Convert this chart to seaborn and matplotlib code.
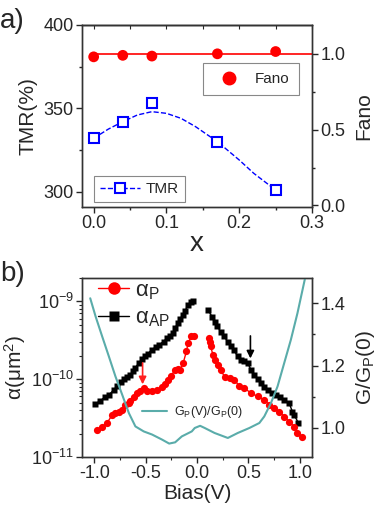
import numpy as np
import pandas as pd
import matplotlib
matplotlib.use("Agg")
import matplotlib.pyplot as plt
from matplotlib.lines import Line2D
from matplotlib.ticker import MultipleLocator
import seaborn as sns

# panel a: composition x
x_comp = [0.0, 0.04, 0.08, 0.17, 0.25]
tmr = [332, 342, 353, 330, 301]
fano = [0.98, 0.99, 0.985, 1.0, 1.015]
tmr_fit_x = [0.0, 0.02, 0.04, 0.06, 0.08, 0.10, 0.12, 0.14, 0.17, 0.20, 0.22, 0.25]
tmr_fit = [332, 337.5, 342, 346, 348, 347, 344, 339, 330, 319, 311, 301]
fano_ref_x = [0.0, 0.3]
fano_ref = [1.0, 1.0]

# panel b: bias dependence, negative / positive branches
bias_ap_neg = [-0.993, -0.948, -0.896, -0.858, -0.81, -0.776, -0.745, -0.712, -0.68,
               -0.648, -0.625, -0.60, -0.567, -0.535, -0.503, -0.477, -0.44, -0.40,
               -0.368, -0.326, -0.29, -0.261, -0.235, -0.21, -0.187, -0.164, -0.138,
               -0.116, -0.09, -0.061, -0.04]
alpha_ap_neg = [4.8e-11, 5.2e-11, 5.9e-11, 6.3e-11, 7.3e-11, 8.2e-11, 9.3e-11, 1.0e-10,
                1.06e-10, 1.14e-10, 1.27e-10, 1.41e-10, 1.61e-10, 1.81e-10, 2.0e-10,
                2.12e-10, 2.4e-10, 2.59e-10, 2.77e-10, 3.05e-10, 3.39e-10, 3.55e-10,
                3.92e-10, 4.62e-10, 5.27e-10, 5.93e-10, 6.76e-10, 7.45e-10, 9.08e-10,
                9.8e-10, 1.0e-9]
bias_ap_pos = [0.107, 0.145, 0.171, 0.197, 0.229, 0.261, 0.30, 0.333, 0.358, 0.397,
               0.43, 0.46, 0.494, 0.526, 0.559, 0.59, 0.623, 0.655, 0.687, 0.726,
               0.769, 0.81, 0.849, 0.897, 0.929, 0.946, 0.985]
alpha_ap_pos = [7.8e-10, 6.4e-10, 5.5e-10, 4.8e-10, 4.1e-10, 3.55e-10, 3.05e-10,
                2.64e-10, 2.39e-10, 1.96e-10, 1.78e-10, 1.73e-10, 1.61e-10, 1.32e-10,
                1.14e-10, 1.0e-10, 8.9e-11, 8.05e-11, 7.16e-11, 6.62e-11, 6.31e-11,
                5.89e-11, 5.43e-11, 4.92e-11, 3.84e-11, 3.48e-11, 2.77e-11]
bias_p_neg = [-0.971, -0.922, -0.874, -0.826, -0.794, -0.761, -0.729, -0.70, -0.664,
              -0.648, -0.616, -0.583, -0.551, -0.52, -0.487, -0.44, -0.39, -0.342,
              -0.31, -0.28, -0.25, -0.216, -0.19, -0.167, -0.135, -0.103, -0.087,
              -0.054, -0.032]
alpha_p_neg = [2.23e-11, 2.46e-11, 2.77e-11, 3.47e-11, 3.66e-11, 3.84e-11, 4.04e-11,
               4.68e-11, 5.01e-11, 5.32e-11, 5.89e-11, 6.6e-11, 6.95e-11, 7.67e-11,
               6.95e-11, 6.95e-11, 7.31e-11, 7.91e-11, 8.8e-11, 9.8e-11, 1.1e-10,
               1.32e-10, 1.35e-10, 1.32e-10, 1.61e-10, 2.28e-10, 2.92e-10, 3.55e-10,
               3.62e-10]
bias_p_pos = [0.113, 0.123, 0.133, 0.155, 0.178, 0.203, 0.229, 0.268, 0.317, 0.365,
              0.413, 0.462, 0.526, 0.59, 0.655, 0.704, 0.752, 0.80, 0.849, 0.897,
              0.946, 0.978, 1.027]
alpha_p_pos = [3.39e-10, 3.05e-10, 2.64e-10, 2.06e-10, 1.78e-10, 1.53e-10, 1.32e-10,
               1.08e-10, 1.03e-10, 9.8e-11, 8.1e-11, 7.67e-11, 6.62e-11, 6.0e-11,
               5.43e-11, 4.68e-11, 4.27e-11, 3.84e-11, 3.31e-11, 2.85e-11, 2.46e-11,
               2.02e-11, 1.8e-11]
bias_g = [-1.04, -0.987, -0.923, -0.858, -0.794, -0.729, -0.664, -0.60, -0.519,
          -0.438, -0.342, -0.271, -0.213, -0.148, -0.051, -0.022, 0.03, 0.075, 0.171,
          0.30, 0.397, 0.51, 0.607, 0.655, 0.72, 0.784, 0.849, 0.914, 0.978, 1.05]
g_ratio = [1.416, 1.357, 1.293, 1.229, 1.165, 1.107, 1.048, 1.005, 0.989, 0.979,
           0.963, 0.950, 0.954, 0.973, 0.989, 1.0, 1.007, 1.0, 0.984, 0.968, 0.984,
           1.0, 1.016, 1.037, 1.08, 1.133, 1.208, 1.283, 1.368, 1.477]

sns.set_style("ticks")
plt.rcParams["font.family"] = ["Liberation Sans", "DejaVu Sans"]
plt.rcParams["mathtext.fontset"] = "custom"
plt.rcParams["mathtext.rm"] = "Liberation Sans"
plt.rcParams["mathtext.it"] = "Liberation Sans:italic"
plt.rcParams["axes.edgecolor"] = "#333333"
plt.rcParams["axes.linewidth"] = 1.0

fig = plt.figure(figsize=(3.82, 5.09), dpi=100)
ax_a = fig.add_axes([0.2147, 0.5933, 0.6021, 0.3576])
ax_b = fig.add_axes([0.2147, 0.1022, 0.6021, 0.3516])

TICK = 13
LAB = 15

# ---- panel a ----
ax_a2 = ax_a.twinx()
sns.lineplot(x=tmr_fit_x, y=tmr_fit, ax=ax_a, color="#0000ff", linestyle="--",
             linewidth=1.0, estimator=None, sort=False, legend=False)
ax_a.plot(x_comp, tmr, linestyle="none", marker="s", markersize=7,
          markerfacecolor="white", markeredgecolor="#0000ff", markeredgewidth=1.5)
sns.lineplot(x=fano_ref_x, y=fano_ref, ax=ax_a2, color="#ff0000", linewidth=1.2,
             estimator=None, legend=False)
sns.scatterplot(x=x_comp, y=fano, ax=ax_a2, color="#ff0000", s=60,
                edgecolor="none", legend=False, zorder=3)

ax_a.set_xlim(-0.016, 0.3)
ax_a.set_ylim(290.8, 400)
ax_a2.set_ylim(-0.01, 1.19)
ax_a.xaxis.set_major_locator(MultipleLocator(0.1))
ax_a.xaxis.set_minor_locator(MultipleLocator(0.05))
ax_a.yaxis.set_major_locator(MultipleLocator(50))
ax_a.yaxis.set_minor_locator(MultipleLocator(25))
ax_a2.yaxis.set_major_locator(MultipleLocator(0.5))
ax_a2.yaxis.set_minor_locator(MultipleLocator(0.25))
ax_a.set_xticks([0.0, 0.1, 0.2, 0.3])
ax_a.set_xticklabels(["0.0", "0.1", "0.2", "0.3"])
ax_a2.set_yticks([0.0, 0.5, 1.0])
ax_a2.set_yticklabels(["0.0", "0.5", "1.0"])
ax_a.tick_params(labelsize=TICK, length=4, width=1, pad=2)
ax_a.tick_params(which="minor", length=2.5, width=1)
ax_a2.tick_params(labelsize=TICK, length=4, width=1, pad=2)
ax_a2.tick_params(which="minor", length=2.5, width=1)
top_a = ax_a.secondary_xaxis("top")
top_a.xaxis.set_major_locator(MultipleLocator(0.05))
top_a.tick_params(direction="in", length=3, labeltop=False)
ax_a.set_xlabel("x", fontsize=20, labelpad=-1)
ax_a.set_ylabel("TMR(%)", fontsize=LAB, labelpad=4)
ax_a2.set_ylabel("Fano", fontsize=LAB, labelpad=6)

h_fano = Line2D([], [], linestyle="none", marker="o", markersize=9,
                color="#ff0000")
h_tmr = Line2D([], [], linestyle="--", color="#0000ff", linewidth=1.0, marker="s",
               markersize=7, markerfacecolor="white", markeredgecolor="#0000ff",
               markeredgewidth=1.5)
leg_f = ax_a2.legend([h_fano], ["Fano"], loc="upper right",
                     bbox_to_anchor=(0.943, 0.791), borderaxespad=0, fontsize=11,
                     fancybox=False, edgecolor="#888888", framealpha=1,
                     handlelength=2.2, handletextpad=0.6, borderpad=0.6)
leg_f.get_frame().set_linewidth(0.8)
leg_t = ax_a2.legend([h_tmr], ["TMR"], loc="lower left",
                     bbox_to_anchor=(0.052, 0.027), borderaxespad=0, fontsize=11,
                     fancybox=False, edgecolor="#888888", framealpha=1,
                     handlelength=2.6, handletextpad=0.4, borderpad=0.4)
leg_t.get_frame().set_linewidth(0.8)
ax_a2.add_artist(leg_f)

# ---- panel b ----
ax_b2 = ax_b.twinx()
for bx, al in [(bias_ap_neg, alpha_ap_neg), (bias_ap_pos, alpha_ap_pos)]:
    sns.lineplot(x=bx, y=al, ax=ax_b, color="black", linewidth=1.0, marker="s",
                 markersize=4.2, markeredgecolor="none", estimator=None,
                 sort=False, legend=False)
for bx, al in [(bias_p_neg, alpha_p_neg), (bias_p_pos, alpha_p_pos)]:
    sns.lineplot(x=bx, y=al, ax=ax_b, color="#ff0000", linewidth=1.0, marker="o",
                 markersize=5.2, markeredgecolor="none", estimator=None,
                 sort=False, legend=False)
sns.lineplot(x=bias_g, y=g_ratio, ax=ax_b2, color="#5aacaa", linewidth=1.5,
             estimator=None, sort=False, legend=False)

ax_b.set_yscale("log")
ax_b.set_xlim(-1.12, 1.12)
ax_b.set_ylim(1e-11, 2.0e-9)
ax_b2.set_ylim(0.907, 1.481)
ax_b.xaxis.set_major_locator(MultipleLocator(0.5))
ax_b.xaxis.set_minor_locator(MultipleLocator(0.25))
ax_b.set_xticks([-1.0, -0.5, 0.0, 0.5, 1.0])
ax_b.set_xticklabels(["-1.0", "-0.5", "0.0", "0.5", "1.0"])
ax_b.set_yticks([1e-11, 1e-10, 1e-9])
ax_b2.set_yticks([1.0, 1.2, 1.4])
ax_b2.set_yticklabels(["1.0", "1.2", "1.4"])
ax_b2.yaxis.set_minor_locator(MultipleLocator(0.1))
ax_b.tick_params(labelsize=TICK, length=4, width=1, pad=2)
ax_b.tick_params(which="minor", length=2.5, width=0.8)
ax_b2.tick_params(labelsize=TICK, length=4, width=1, pad=2)
ax_b2.tick_params(which="minor", length=2.5, width=1)
ax_b.set_xlabel("Bias(V)", fontsize=LAB, labelpad=1)
ax_b.set_ylabel("α(μm$^2$)", fontsize=LAB, labelpad=2)
ax_b2.set_ylabel("G/G$_\\mathrm{P}$(0)", fontsize=LAB, labelpad=6)

ax_b.annotate("", xy=(-0.53, 8.6e-11), xytext=(-0.53, 1.62e-10),
              arrowprops=dict(arrowstyle="-|>", color="#ff2020", lw=1.2,
                              mutation_scale=11, shrinkA=0, shrinkB=0))
ax_b.annotate("", xy=(0.52, 1.85e-10), xytext=(0.52, 3.6e-10),
              arrowprops=dict(arrowstyle="-|>", color="black", lw=1.2,
                              mutation_scale=11, shrinkA=0, shrinkB=0))

h_p = Line2D([], [], color="#ff0000", linewidth=1.0, marker="o", markersize=9,
             markeredgecolor="none")
h_ap = Line2D([], [], color="black", linewidth=1.0, marker="s", markersize=7,
              markeredgecolor="none")
ax_b.legend([h_p, h_ap], ["α$_\\mathrm{P}$", "α$_\\mathrm{AP}$"], loc="upper left",
            bbox_to_anchor=(0.06, 1.0), borderaxespad=0, frameon=False, fontsize=16,
            handlelength=1.4, handletextpad=0.25, labelspacing=0.25, borderpad=0.1)
h_g = Line2D([], [], color="#5aacaa", linewidth=1.5)
ax_b2.legend([h_g], ["G$_\\mathrm{P}$(V)/G$_\\mathrm{P}$(0)"], loc="center left",
             bbox_to_anchor=(0.26, 0.25), borderaxespad=0, frameon=False,
             fontsize=9, handlelength=2.0, handletextpad=0.6, borderpad=0)

fig.text(0.0, 0.985, "a)", fontsize=20, va="top", ha="left")
fig.text(0.0, 0.488, "b)", fontsize=20, va="top", ha="left")

fig.savefig("out.png", dpi=100)
plt.close(fig)
